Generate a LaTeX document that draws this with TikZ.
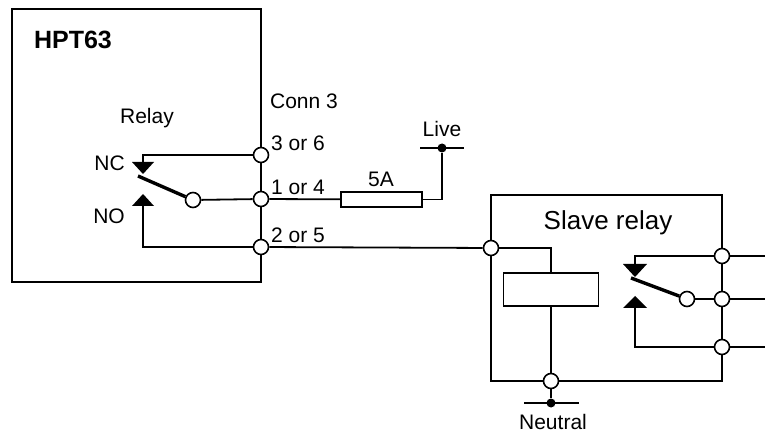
\documentclass[tikz,border=0pt]{standalone}
\usepackage{fontspec}
\setmainfont{Liberation Sans}
\usetikzlibrary{positioning}

\tikzset{
  wire/.style={line width=1.8pt},
  blade/.style={line width=3.4pt},
  term/.style={circle,draw,fill=white,line width=1.6pt,minimum size=15pt,inner sep=0pt},
  dot/.style={circle,fill,minimum size=9pt,inner sep=0pt},
  lbl/.style={inner sep=0pt,font=\fontsize{21}{25}\selectfont},
}

\begin{document}
\begin{tikzpicture}[x=1pt,y=-1pt]
\useasboundingbox (0,0) rectangle (765,435);
% HPT63 unit
\draw[wire] (12,9) rectangle (261,282);
\node[inner sep=0pt,font=\fontsize{25}{28}\selectfont\bfseries] (hpt) at (73,40) {HPT63};
\node[lbl] (relay) at (147,118) {Relay};
\node[lbl] (conn) at (304,101) {Conn 3};
\node[lbl,anchor=west] (l36) at (271,143) {3 or 6};
\node[lbl,anchor=west] (l14) at (271,187) {1 or 4};
\node[lbl,anchor=west] (l25) at (271,235) {2 or 5};
\node[lbl,anchor=east] (nc) at (125,163) {NC};
\node[lbl,anchor=east] (no) at (125,216) {NO};
\node[term] (t3) at (261,155) {};
\node[term] (t1) at (261,199) {};
\node[term] (t2) at (261,247) {};
% relay contacts
\fill (132,162) -- (154,162) -- (143,174) -- cycle;
\fill (132,206) -- (154,206) -- (143,194) -- cycle;
\draw[wire] (t3) -| (143,162);
\draw[wire] (t2) -| (143,206);
\node[term] (p1) at (193,200) {};
\draw[blade] (138,176) -- (p1);
\draw[wire] (p1) -- (t1);
% fuse and live
\node[draw,wire,minimum width=81pt,minimum height=15pt,inner sep=0pt] (fuse) at (381.5,199.5) {};
\node[lbl] (amp) at (381,179) {5A};
\node[dot] (live) at (442,148) {};
\node[lbl] (livel) at (442,129) {Live};
\draw[wire] (420,148) -- (464,148);
\draw[wire] (t1) -- (fuse);
\draw[wire] (fuse.east) -| (live);
% slave relay
\draw[wire] (491,195) rectangle (722,381);
\node[inner sep=0pt,font=\fontsize{26}{30}\selectfont] (slave) at (608,223) {Slave relay};
\node[term] (s1) at (491,248) {};
\node[term] (sn) at (551,381) {};
\node[term] (r1) at (722,256) {};
\node[term] (r2) at (722,299) {};
\node[term] (r3) at (722,347) {};
\draw[wire] (t2) -- (s1);
\node[draw,wire,minimum width=95pt,minimum height=33pt,inner sep=0pt] (coil) at (551,289.5) {};
\draw[wire] (s1) -| (coil);
\draw[wire] (coil) -- (sn);
% neutral
\node[dot] (neu) at (551,403) {};
\node[lbl] (neul) at (553,422) {Neutral};
\draw[wire] (524,403) -- (579,403);
\draw[wire] (sn) -- (neu);
% slave contacts
\fill (623,264) -- (647,264) -- (635,277) -- cycle;
\fill (623,308) -- (647,308) -- (635,296) -- cycle;
\draw[wire] (r1) -| (635,264);
\draw[wire] (r3) -| (635,308);
\node[term] (p2) at (687,299) {};
\draw[blade] (631,278) -- (p2);
\draw[wire] (p2) -- (r2);
\coordinate (e1) at (765,256);
\coordinate (e2) at (765,299);
\coordinate (e3) at (765,347);
\draw[wire] (r1) -- (e1);
\draw[wire] (r2) -- (e2);
\draw[wire] (r3) -- (e3);
\end{tikzpicture}
\end{document}
